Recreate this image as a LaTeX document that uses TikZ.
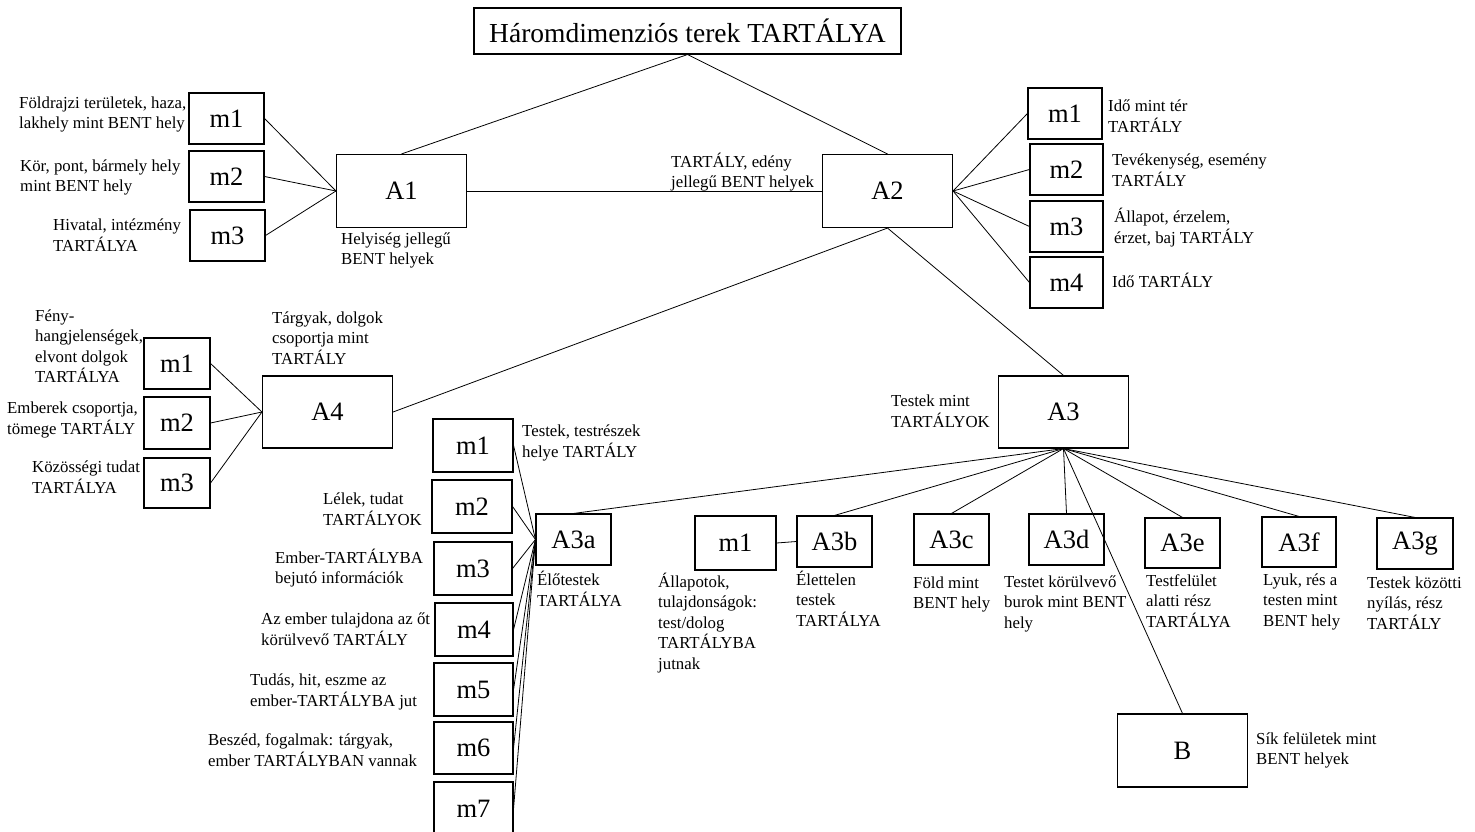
\documentclass[tikz,border=0pt]{standalone}
\usepackage{fontspec}
\setmainfont{Liberation Serif}
\begin{document}
\begin{tikzpicture}[x=1pt,y=-1pt,
  box/.style={draw, line width=1.1pt, inner sep=0pt, font=\fontsize{26.5}{30}\selectfont},
  sbox/.style={box, minimum width=75pt, minimum height=51pt},
  bbox/.style={box, minimum width=130pt, minimum height=73pt},
  lbl/.style={inner sep=0pt, anchor=north west, yshift=9.35pt, align=left, font=\fontsize{16.8}{20.5}\selectfont},
  ln/.style={line width=0.8pt}]
\useasboundingbox (0,0) rectangle (1475,832);
\fill[white] (0,0) rectangle (1475,832);

% main boxes
\node[box, minimum width=427pt, minimum height=46pt, font=\fontsize{27.5}{30}\selectfont] (T) at (687.5,31) {Háromdimenziós terek TARTÁLYA};
\node[bbox] (A1) at (401.5,191) {A1};
\node[bbox] (A2) at (887.5,191) {A2};
\node[bbox, minimum height=72pt] (A4) at (327.5,412) {A4};
\node[bbox, minimum height=72pt] (A3) at (1063.5,412) {A3};
\node[bbox] (B) at (1182.5,750.5) {B};

% A1 children
\node[sbox] (a1m1) at (226.5,118.5) {m1};
\node[sbox] (a1m2) at (226.5,176.5) {m2};
\node[sbox] (a1m3) at (227.5,235.5) {m3};

% A2 children
\node[sbox, minimum width=74pt] (a2m1) at (1065,113.5) {m1};
\node[sbox, minimum width=73pt] (a2m2) at (1066.5,169.5) {m2};
\node[sbox, minimum width=73pt] (a2m3) at (1066.5,226.5) {m3};
\node[sbox, minimum width=73pt] (a2m4) at (1066.5,282.5) {m4};

% A4 children
\node[sbox, minimum width=66pt] (a4m1) at (177,363.5) {m1};
\node[sbox, minimum width=66pt, minimum height=52pt] (a4m2) at (177,423) {m2};
\node[sbox, minimum width=66pt, minimum height=50pt] (a4m3) at (177,483) {m3};

% A3 children
\node[sbox] (A3a) at (573.5,539.5) {A3a};
\node[sbox] (A3b) at (834.5,541.5) {A3b};
\node[sbox] (A3c) at (951.5,539.5) {A3c};
\node[sbox] (A3d) at (1066.5,539.5) {A3d};
\node[sbox, minimum height=50pt] (A3e) at (1182.5,543) {A3e};
\node[sbox, minimum width=74pt, minimum height=50pt] (A3f) at (1299,542) {A3f};
\node[sbox, minimum width=76pt] (A3g) at (1415,543.5) {A3g};
\node[sbox, minimum width=81pt, minimum height=54pt] (bm1) at (735.5,543) {m1};

% A3a children
\node[sbox, minimum width=80pt, minimum height=53pt] (am1) at (473,445.5) {m1};
\node[sbox, minimum width=80pt, minimum height=53pt] (am2) at (472,506.5) {m2};
\node[sbox, minimum width=78pt, minimum height=53pt] (am3) at (473,568.5) {m3};
\node[sbox, minimum width=78pt, minimum height=53pt] (am4) at (474,629.5) {m4};
\node[sbox, minimum width=79pt, minimum height=53pt] (am5) at (473.5,689.5) {m5};
\node[sbox, minimum width=79pt, minimum height=52pt] (am6) at (473.5,748) {m6};
\node[sbox, minimum width=79pt, minimum height=53pt] (am7) at (473.5,808.5) {m7};

% connectors
\draw[ln] (T.south) -- (A1.north);
\draw[ln] (T.south) -- (A2.north);
\draw[ln] (A1.east) -- (A2.west);
\foreach \m in {a1m1,a1m2,a1m3} \draw[ln] (\m.east) -- (A1.west);
\foreach \m in {a2m1,a2m2,a2m3,a2m4} \draw[ln] (A2.east) -- (\m.west);
\draw[ln] (A2.south) -- (A4.east);
\draw[ln] (A2.south) -- (A3.north);
\foreach \m in {a4m1,a4m2,a4m3} \draw[ln] (\m.east) -- (A4.west);
\foreach \m in {A3a,A3b,A3c,A3d,A3e,A3f,A3g,B} \draw[ln] (A3.south) -- (\m.north);
\foreach \m in {am1,am2,am3,am4,am5,am6,am7} \draw[ln] (\m.east) -- (A3a.west);
\draw[ln] (bm1.east) -- (A3b.west);

% labels
\node[lbl] (t1) at (19,103) {\strut Földrajzi területek, haza,\\lakhely mint BENT hely};
\node[lbl] (t2) at (20,166) {\strut Kör, pont, bármely hely\\mint BENT hely};
\node[lbl] (t3) at (53,225) {\strut Hivatal, intézmény\\TARTÁLYA};
\node[lbl] (t4) at (341,239) {\strut Helyiség jellegű\\BENT helyek};
\node[lbl] (t5) at (671,162) {\strut TARTÁLY, edény\\jellegű BENT helyek};
\node[lbl] (t6) at (1108,106) {\strut Idő mint tér\\TARTÁLY};
\node[lbl] (t7) at (1112,160) {\strut Tevékenység, esemény\\TARTÁLY};
\node[lbl] (t8) at (1114,217) {\strut Állapot, érzelem,\\érzet, baj TARTÁLY};
\node[lbl] (t9) at (1112,282) {\strut Idő TARTÁLY};
\node[lbl] (t10) at (35,316) {\strut Fény-\\hangjelenségek,\\elvont dolgok\\TARTÁLYA};
\node[lbl] (t11) at (7,408) {\strut Emberek csoportja,\\tömege TARTÁLY};
\node[lbl] (t12) at (32,467) {\strut Közösségi tudat\\TARTÁLYA};
\node[lbl] (t13) at (272,318) {\strut Tárgyak, dolgok\\csoportja mint\\TARTÁLY};
\node[lbl] (t14) at (891,401) {\strut Testek mint\\TARTÁLYOK};
\node[lbl] (t15) at (522,431) {\strut Testek, testrészek\\helye TARTÁLY};
\node[lbl] (t16) at (323,499) {\strut Lélek, tudat\\TARTÁLYOK};
\node[lbl] (t17) at (275,558) {\strut Ember-TARTÁLYBA\\bejutó információk};
\node[lbl] (t18) at (261,619) {\strut Az ember tulajdona az őt\\körülvevő TARTÁLY};
\node[lbl] (t19) at (250,680) {\strut Tudás, hit, eszme az\\ember-TARTÁLYBA jut};
\node[lbl] (t20) at (208,740) {\strut Beszéd, fogalmak: tárgyak,\\ember TARTÁLYBAN vannak};
\node[lbl] (t21) at (537,580) {\strut Élőtestek\\TARTÁLYA};
\node[lbl] (t22) at (658,582) {\strut Állapotok,\\tulajdonságok:\\test/dolog\\TARTÁLYBA\\jutnak};
\node[lbl] (t23) at (796,580) {\strut Élettelen\\testek\\TARTÁLYA};
\node[lbl] (t24) at (913,583) {\strut Föld mint\\BENT hely};
\node[lbl] (t25) at (1004,582) {\strut Testet körülvevő\\burok mint BENT\\hely};
\node[lbl] (t26) at (1146,581) {\strut Testfelület\\alatti rész\\TARTÁLYA};
\node[lbl] (t27) at (1263,580) {\strut Lyuk, rés a\\testen mint\\BENT hely};
\node[lbl] (t28) at (1367,583) {\strut Testek közötti\\nyílás, rész\\TARTÁLY};
\node[lbl] (t29) at (1256,739) {\strut Sík felületek mint\\BENT helyek};
\end{tikzpicture}
\end{document}
